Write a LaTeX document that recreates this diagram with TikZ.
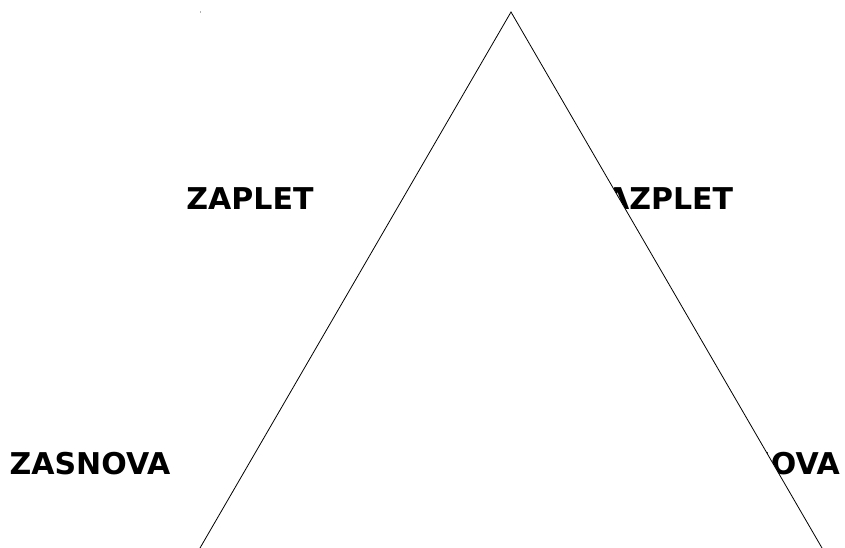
\documentclass[tikz,border=0pt]{standalone}
\usepackage{fontspec}
\setmainfont{DejaVu Sans}
\begin{document}
\begin{tikzpicture}[x=1pt,y=-1pt,
  lbl/.style={font=\fontsize{30}{35}\selectfont\bfseries, anchor=base, inner sep=0pt},
  tri/.style={draw=black, fill=white, line width=0.8pt}]
\useasboundingbox (0,0) rectangle (845,548);
\fill[gray!60] (199.5,11) rectangle (200.5,13);
\node[lbl] (zasnova) at (90,474) {ZASNOVA};
\node[lbl] (zaplet) at (250,209) {ZAPLET};
\node[lbl] (razplet) at (658,209) {RAZPLET};
\node[lbl] (razsnova) at (748,474) {RAZSNOVA};
\coordinate (apex) at (511,12);
\coordinate (bl) at (200,548);
\coordinate (br) at (822,548);
\clip (0,0) rectangle (845,548);
\draw[tri] (bl) -- (apex) -- (br);
\end{tikzpicture}
\end{document}
